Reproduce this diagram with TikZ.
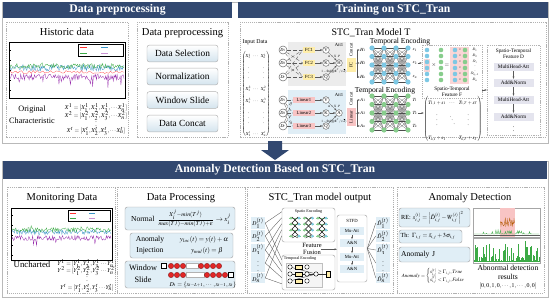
\documentclass[tikz,border=0pt]{standalone}
\usepackage{amsmath}
\usepackage{mathptmx}
\usepackage{fontspec}
\setmainfont{Liberation Serif}
\usepackage{tikz}
\usetikzlibrary{positioning, arrows.meta, calc}

\definecolor{hdrblue}{RGB}{50,72,112}
\definecolor{btnblue}{RGB}{212,228,238}
\definecolor{boxblue}{RGB}{224,238,246}
\definecolor{fcyellow}{RGB}{255,238,170}
\definecolor{linred}{RGB}{248,196,196}
\definecolor{nnblue}{RGB}{125,200,228}
\definecolor{nngreen}{RGB}{135,205,140}
\definecolor{dotred}{RGB}{226,38,38}
\definecolor{attgray}{RGB}{228,228,238}
\definecolor{sigpurple}{RGB}{150,40,170}
\definecolor{siggreen}{RGB}{60,170,70}
\definecolor{sigblue}{RGB}{60,150,200}

\newcommand{\fsz}[2]{\fontsize{#1}{#2}\selectfont}

\begin{document}
\begin{tikzpicture}[
    x=0.03cm, y=-0.03cm,
    >={Stealth[length=2pt,width=1.6pt]},
    hdr/.style={fill=hdrblue, text=white, font=\bfseries\fsz{10}{12}, inner sep=0pt},
    frame/.style={draw=gray!55, line width=0.5pt},
    panel/.style={draw=gray!60, dash pattern=on 1pt off 0.8pt, line width=0.4pt},
    ttl/.style={font=\fsz{9}{10}, inner sep=0pt},
    btn/.style={draw=gray!60, rounded corners=2pt, top color=white, bottom color=btnblue,
        font=\fsz{8}{9}, minimum width=2.13cm, minimum height=0.5cm},
    pbox/.style={draw=gray!70, rounded corners=2pt, fill=boxblue, inner sep=1pt},
    lbl/.style={font=\fsz{5}{6}, inner sep=0.5pt},
    lbltiny/.style={font=\fsz{4}{5}, inner sep=0.3pt},
    dcirc/.style={circle, draw=gray!80!black, fill=white, inner sep=0pt, minimum size=0.24cm, font=\fsz{3.8}{4}},
    vkq/.style={circle, draw=gray!80!black, fill=white, inner sep=0pt, minimum size=0.2cm, font=\fsz{4}{5}},
    fcbox/.style={fill=fcyellow, inner sep=0pt, minimum width=0.36cm, minimum height=0.2cm, font=\fsz{4}{5}},
    linbox/.style={fill=linred, inner sep=0pt, minimum width=0.66cm, minimum height=0.2cm, font=\fsz{4}{5}},
    attbox/.style={fill=attgray, inner sep=0pt, minimum width=1.2cm, minimum height=0.24cm, font=\fsz{4.5}{5}},
    dlab/.style={fill=boxblue, inner sep=0.5pt, minimum width=0.42cm, minimum height=0.32cm, font=\fsz{5}{6}},
    sfdbox/.style={fill=boxblue, inner sep=0pt, minimum width=0.72cm, minimum height=0.22cm, font=\fsz{4}{5}},
    encbox/.style={draw=gray!70, rounded corners=2pt, fill=white},
    conn/.style={draw=gray!70!black, line width=0.3pt},
    nnline/.style={draw=gray!60!black, line width=0.15pt}
]
\useasboundingbox (0,0) rectangle (550,301);
\pgfmathsetseed{12}

% Outer frames
\draw[frame] (2,2) rectangle (548,143);
\draw[frame] (2,161) rectangle (548,297);

% Headers
\node[hdr, minimum width=6.87cm, minimum height=0.48cm] (hdrpre) at (117.5,10) {Data preprocessing};
\node[hdr, minimum width=9.3cm, minimum height=0.48cm] (hdrtrain) at (393,10) {Training on STC\_Tran};
\node[hdr, minimum width=16.32cm, minimum height=0.54cm] (hdrdet) at (275,170) {Anomaly Detection Based on STC\_Tran};

% Down arrow between the two stages
\fill[hdrblue] (268,141) -- (282,141) -- (282,150) -- (289,150) -- (275,160) -- (261,150) -- (268,150) -- cycle;

% ---------------- Historic data ----------------
\draw[panel] (6,22) rectangle (128,137);
\node[ttl] (histttl) at (67,32) {Historic data};
\draw[fill=white, line width=0.4pt] (9,42) rectangle (125,98);
\begin{scope}
    \clip (9,42) rectangle (125,98);
    \draw[sigblue, line width=0.25pt] plot[domain=10:124, samples=150] (\x,{68+3*rand-8*max(0,rand-0.8)});
    \draw[siggreen, line width=0.25pt] plot[domain=10:124, samples=150] (\x,{66+2.5*rand-12*max(0,rand-0.8)});
    \draw[sigpurple, line width=0.25pt] plot[domain=10:124, samples=150] (\x,{77+3*rand+80*max(0,rand-0.85)});
    \draw[red!80, line width=0.2pt] plot[domain=10:124, samples=60] (\x,{72+1.5*rand});
\end{scope}
\foreach \t in {50,60,...,90} \draw[line width=0.2pt] (9,\t) -- (10.5,\t);
\draw[fill=white, line width=0.2pt] (78,44) rectangle (123,56);
\draw[red!80, line width=0.3pt] (80,47) -- (87,47);
\draw[sigblue, line width=0.3pt] (101,47) -- (108,47);
\draw[siggreen, line width=0.3pt] (80,53) -- (87,53);
\draw[sigpurple!50, line width=0.3pt] (101,53) -- (108,53);
\node[font=\fsz{7}{8}] (orig) at (32,110) {Original};
\node[font=\fsz{7}{8}] (charac) at (32,121) {Characteristic};
\node[font=\fsz{5}{6}] (xrow1) at (96,108) {$X^1=[X_1^1,X_2^1,X_3^1,\cdots X_n^1]$};
\node[font=\fsz{5}{6}] (xrow2) at (96,116) {$X^2=[X_1^2,X_2^2,X_3^2,\cdots X_n^2]$};
\node[font=\fsz{5}{6}] (xdots) at (96,123) {$\vdots$};
\node[font=\fsz{5}{6}] (xrowt) at (96,131) {$X^t=[X_1^t,X_2^t,X_3^t,\cdots X_n^t]$};

% ---------------- Data preprocessing steps ----------------
\draw[panel] (137,22) rectangle (228,137);
\node[ttl] (prettl) at (182.5,33) {Data preprocessing};
\node[btn] (bsel) at (182.5,53.5) {Data Selection};
\node[btn] (bnorm) at (182.5,76.5) {Normalization};
\node[btn] (bwin) at (182.5,100) {Window Slide};
\node[btn] (bcon) at (182.5,123.5) {Data Concat};

% ---------------- STC_Tran model T ----------------
\draw[panel] (240,22) rectangle (546,137);
\node[ttl, font=\fsz{8.5}{9}] (modelttl) at (371,33) {STC\_Tran Model T};
\node[lbl] (inttl) at (255,42) {Input Data};
\node[font=\fsz{3.8}{4}, inner sep=0pt] (inmat) at (256,94)
    {\arraycolsep=1pt\renewcommand{\arraystretch}{2.6}$\begin{pmatrix}
    X_1^1 & \cdots & X_n^1\\ \vdots & & \vdots\\ X_1^2 & \cdots & X_n^2\\
    X_1^3 & \cdots & X_n^3\\ \vdots & & \vdots\\ X_1^t & \cdots & X_n^t\end{pmatrix}$};
\fill[gray!15] (288,42) rectangle (346,86);
\fill[boxblue] (288,90) rectangle (346,134);

% spatial attention branch
\node[dcirc] (d1) at (283,50) {$D_1$};
\node[dcirc] (d2) at (283,63) {$D_2$};
\node[dcirc] (d3) at (283,77) {$D_t$};
\node[fcbox] (fc1) at (309,50) {FC1};
\node[fcbox] (fc2) at (309,63) {FC2};
\node[fcbox] (fc3) at (309,77) {FC3};
\foreach \a in {1,2,3}
    \foreach \b in {1,2,3}
        \draw[conn, densely dashed] (d\a) -- (fc\b.west);
\node[vkq] (v1) at (326,50) {V};
\node[vkq] (k1) at (326,63) {K};
\node[vkq] (q1) at (326,77) {Q};
\node[vkq] (h1) at (339,63) {H};
\draw[->, conn] (fc1) -- (v1);
\draw[->, conn] (fc2) -- (k1);
\draw[->, conn] (fc3) -- (q1);
\draw[->, conn] (v1) -- (h1);
\draw[->, conn] (k1) -- (h1);
\draw[->, conn] (q1) -- (h1);
\node[lbltiny] (att1) at (339,45) {Att1};
\node[font=\fsz{2.8}{3}] (alpha1) at (334,56.5) {$\alpha=X\cdot P$};
\node[font=\fsz{2.8}{3}] (std1) at (334,71) {$1-\mathrm{Std}(QK^T/\sqrt{d})$};
\node[lbltiny, rotate=90] (cat1) at (351,50) {Concat};
\node[fcbox, rotate=90, minimum width=0.42cm, minimum height=0.27cm] (mlp1) at (351,65) {FC};
\node[lbltiny] (hh1) at (363,50) {$H_1$};
\node[lbltiny] (hh2) at (363,63) {$H_2$};
\node[lbltiny] (hhn) at (363,77) {$H_n$};
\coordinate (br1) at (357,63);
\draw[conn] (mlp1) -- (br1);
\draw[conn] (hh1.west -| br1) -- (hhn.west -| br1);
\foreach \h in {hh1,hh2,hhn} \draw[->, conn] (\h.west -| br1) -- (\h.west);

% temporal attention branch
\node[dcirc] (e1) at (283,100) {$D_1$};
\node[dcirc] (e2) at (283,113) {$D_2$};
\node[dcirc] (e3) at (283,126) {$D_t$};
\node[linbox] (lin1) at (304,100) {Linear1};
\node[linbox] (lin2) at (304,113) {Linear2};
\node[linbox] (lin3) at (304,126) {Linear3};
\foreach \a in {1,2,3}
    \foreach \b in {1,2,3}
        \draw[conn, densely dashed] (e\a) -- (lin\b.west);
\node[vkq] (v2) at (326,100) {V};
\node[vkq] (k2) at (326,113) {K};
\node[vkq] (q2) at (326,126) {Q};
\node[vkq] (a2) at (339,113) {A};
\draw[->, conn] (lin1) -- (v2);
\draw[->, conn] (lin2) -- (k2);
\draw[->, conn] (lin3) -- (q2);
\draw[->, conn] (v2) -- (a2);
\draw[->, conn] (k2) -- (a2);
\draw[->, conn] (q2) -- (a2);
\node[lbltiny] (att2) at (339,95) {Att1};
\node[font=\fsz{2.8}{3}] (alpha2) at (334,106.5) {$\alpha=X\cdot P$};
\node[font=\fsz{2.8}{3}] (std2) at (334,121) {$1-\mathrm{Std}(QK^T/\sqrt{d})$};
\node[lbltiny, rotate=90] (cat2) at (351,99) {Concat};
\node[linbox, rotate=90, minimum width=0.54cm, minimum height=0.27cm] (mlp2) at (351,117) {Linear};
\node[lbltiny] (aa1) at (363,100) {$A_1$};
\node[lbltiny] (aa2) at (363,113) {$A_2$};
\node[lbltiny] (aan) at (363,126) {$A_n$};
\coordinate (br2) at (357,113);
\draw[conn] (mlp2) -- (br2);
\draw[conn] (aa1.west -| br2) -- (aan.west -| br2);
\foreach \h in {aa1,aa2,aan} \draw[->, conn] (\h.west -| br2) -- (\h.west);

% Temporal encoding networks
\node[lbl, font=\fsz{6.5}{7}] (tenc1) at (400,42) {Temporal Encoding};
\node[lbl, font=\fsz{6.5}{7}] (tenc2) at (385,91) {Temporal Encoding};
\foreach \c [count=\ci] in {372,384,396,408}
    \foreach \r [count=\ri] in {48,56.5,65,73.5,82} {
        \coordinate (na\ci-\ri) at (\c,\r);
        \coordinate (nb\ci-\ri) at (\c,\r+48);
    }
\foreach \ci/\cj in {1/2,2/3,3/4}
    \foreach \ri in {1,...,5}
        \foreach \rj in {1,...,5} {
            \draw[nnline] (na\ci-\ri) -- (na\cj-\rj);
            \draw[nnline] (nb\ci-\ri) -- (nb\cj-\rj);
        }
\foreach \ci in {1,...,4}
    \foreach \ri in {1,...,5} {
        \fill[nnblue] (na\ci-\ri) circle (2.6);
        \fill[nngreen] (nb\ci-\ri) circle (2.6);
    }
\node[lbltiny] (s1) at (415,50) {$s_1$};
\node[lbltiny] (s2) at (415,63) {$s_2$};
\node[lbltiny] (sn) at (415,77) {$s_n$};
\node[lbltiny] (t1) at (415,100) {$T_1$};
\node[lbltiny] (t2) at (415,113) {$T_2$};
\node[lbltiny] (tn) at (415,126) {$T_n$};

% Spatio-temporal feature F
\node[panel, minimum width=1.8cm, minimum height=1.59cm] (fbox) at (452,71.5) {};
\fill[linred!70] (424,59) rectangle (430,72);
\fill[linred!70] (450,47) rectangle (469,84);
\foreach \r [count=\ri] in {50,56,62,68,74,80} {
    \fill[nnblue] (427,\r) circle (2.3);
    \fill[nngreen] (441,\r) circle (2.3);
    \fill[nnblue] (455,\r) circle (2.3);
    \fill[nngreen] (465,\r) circle (2.3);
    \node[font=\fsz{3}{3.5}, inner sep=0pt] (xm\ri) at (460,\r) {$\times$};
}
\node[font=\fsz{5}{6}] (mul) at (434,65) {$\times$};
\node[font=\fsz{5}{6}] (eqs) at (447,65) {$=$};
\node[font=\fsz{3.2}{3.5}, inner sep=0pt] (st1) at (475,50) {$St_1$};
\node[font=\fsz{3.2}{3.5}, inner sep=0pt] (st2) at (475,56) {$St_2$};
\node[font=\fsz{3.2}{3.5}, inner sep=0pt] (sti) at (475,62) {$St_i$};
\node[font=\fsz{3.2}{3.5}, inner sep=0pt] (stdots) at (475,68) {$\vdots$};
\node[font=\fsz{3.2}{3.5}, inner sep=0pt] (stm) at (475,74) {$St_{n-1}$};
\node[font=\fsz{3.2}{3.5}, inner sep=0pt] (stn) at (475,80) {$St_n$};
\node[font=\fsz{4.5}{5}] (fttl1) at (452,89) {Spatio-Temporal};
\node[font=\fsz{4.5}{5}] (fttl2) at (452,94.5) {Feature F};
\node[font=\fsz{4.3}{5}, inner sep=0pt] (stmat) at (453,119)
    {\arraycolsep=1.5pt\renewcommand{\arraystretch}{2.4}$\begin{pmatrix}
    T_{1,1}+s_1 & \cdots & T_{1,T}+s_T\\ \vdots & \ddots & \vdots\\
    T_{n,1}+s_1 & \cdots & T_{n,T}+s_T\end{pmatrix}$};
\draw[->, conn] (s2.east) -- (s2.east -| fbox.west);
\draw[->, conn] (t2.east) -- (t2.east -| stmat.west);

% Spatio-temporal feature D
\node[panel, minimum width=1.59cm, minimum height=2.7cm] (dbox) at (513.5,90) {};
\node[font=\fsz{4.5}{5}] (dttl1) at (513.5,51.5) {Spatio-Temporal};
\node[font=\fsz{4.5}{5}] (dttl2) at (513.5,57) {Feature D};
\node[attbox] (mh1) at (513.5,67) {MultiHead-Att};
\node[attbox] (an1) at (513.5,83) {Add\&Norm};
\node[attbox] (mh2) at (513.5,100) {MultiHead-Att};
\node[attbox] (an2) at (513.5,117) {Add\&Norm};
\node[font=\fsz{5}{6}] (ddots) at (513.5,128) {$\vdots$};
\draw[->, conn] (mh1) -- (an1);
\draw[->, conn] (an1) -- (mh2);
\draw[->, conn] (mh2) -- (an2);
\draw[->, conn] (fbox.east |- dbox.west) -- (dbox.west);

% ---------------- Monitoring data ----------------
\draw[panel] (7,187) rectangle (115,293);
\node[ttl] (monttl) at (62,198) {Monitoring Data};
\draw[fill=white, line width=0.4pt] (11,208) rectangle (112,260);
\begin{scope}
    \clip (11,208) rectangle (112,260);
    \draw[sigblue, line width=0.25pt] plot[domain=12:111, samples=130] (\x,{232+2.5*rand-8*max(0,rand-0.8)});
    \draw[siggreen, line width=0.25pt] plot[domain=12:111, samples=130] (\x,{230+2.5*rand-12*max(0,rand-0.8)});
    \draw[sigpurple, line width=0.25pt] plot[domain=12:111, samples=130] (\x,{238+2.5*rand+60*max(0,rand-0.85)});
\end{scope}
\foreach \t in {215,225,...,255} \draw[line width=0.2pt] (11,\t) -- (12.5,\t);
\draw[fill=white, line width=0.2pt] (68,210) rectangle (110,221);
\draw[red!80, line width=0.3pt] (70,213) -- (76,213);
\draw[sigblue, line width=0.3pt] (89,213) -- (95,213);
\draw[siggreen, line width=0.3pt] (70,218) -- (76,218);
\draw[sigpurple!50, line width=0.3pt] (89,218) -- (95,218);
\node[font=\fsz{7.5}{9}] (unch) at (32,264) {Uncharted};
\node[font=\fsz{5}{6}] (yrow1) at (87,264) {$Y^1=[Y_1^1,Y_2^1,Y_3^1\cdots Y_n^1]$};
\node[font=\fsz{5}{6}] (yrow2) at (87,271) {$Y^2=[Y_1^2,Y_2^2,Y_3^2\cdots Y_n^2]$};
\node[font=\fsz{5}{6}] (ydots) at (87,278) {$\vdots$};
\node[font=\fsz{5}{6}] (yrowt) at (87,288) {$Y^t=[Y_1^t,Y_2^t,Y_3^t\cdots Y_n^t]$};

% ---------------- Data processing ----------------
\draw[panel] (117,187) rectangle (245,293);
\node[ttl] (procttl) at (181,198) {Data Processing};
\node[pbox, minimum width=3.3cm, minimum height=0.69cm] (pnorm) at (180,218.5) {};
\node[font=\fsz{6.5}{8}, anchor=west] (normtxt) at (127,218.5) {Normal};
\node[font=\fsz{6}{7}] (normeq) at (194,218.5) {$\frac{X_i^j-min(T^j)}{max(T^j)-min(T^j)+\epsilon}\rightarrow x_i^j$};
\node[pbox, minimum width=3.09cm, minimum height=0.75cm] (pinj) at (181.5,245.5) {};
\node[font=\fsz{6.5}{8}] (injtxt1) at (150,240) {Anomaly};
\node[font=\fsz{6.5}{8}] (injtxt2) at (150,251) {Injection};
\node[font=\fsz{5.8}{7}] (injeq1) at (204,240) {$y_{loc}(t)=y(t)+\alpha$};
\node[font=\fsz{5.8}{7}] (injeq2) at (207,251) {$y_{mul}(t)=\beta$};
\node[pbox, minimum width=3.3cm, minimum height=0.81cm] (pwin) at (180,274.5) {};
\node[font=\fsz{7}{8}] (wintxt1) at (143,268) {Window};
\node[font=\fsz{7}{8}] (wintxt2) at (143,280) {Slide};
\draw[fill=white, line width=0.3pt] (161,263.5) rectangle (166.5,268.5);
\draw[fill=white, draw=gray!60, line width=0.3pt] (186,263.5) rectangle (198,268.5);
\draw[fill=white, draw=gray!60, line width=0.3pt] (186,272.5) rectangle (204,277.5);
\draw[fill=white, line width=0.3pt] (228,272.5) rectangle (233.5,277.5);
\foreach \x in {171,177,183,201,207,213,219}
    \filldraw[fill=dotred, draw=red!40!black, line width=0.2pt] (\x,266) circle (2.7);
\foreach \x in {171,177,183,207,213,219,225}
    \filldraw[fill=dotred, draw=red!40!black, line width=0.2pt] (\x,275) circle (2.7);
\node[font=\fsz{5.2}{6}] (wineq) at (203,284.5) {$D_t=\{x_{t-L+1},\cdots,x_{t-1},x_t\}$};

% ---------------- STC_Tran model output ----------------
\draw[panel] (247,187) rectangle (393,293);
\node[ttl] (outttl) at (320,198) {STC\_Tran model output};
\node[dlab] (in1) at (258,223) {$D_1^{(t)}$};
\node[dlab] (in2) at (258,236) {$D_2^{(t)}$};
\node[dlab] (in3) at (258,250) {$D_3^{(t)}$};
\node[dlab] (in4) at (258,263) {$\vdots$};
\node[dlab] (in5) at (258,278) {$D_n^{(t)}$};
\node[encbox, minimum width=1.59cm, minimum height=1.02cm] (spenc) at (308.5,225) {};
\node[font=\fsz{3.5}{4}] (spttl) at (308.5,212) {Spatio Encoding};
\foreach \c in {295,308.5,322} {
    \foreach \r in {218,224,230,236} {
        \draw[nngreen, line width=0.3pt, densely dotted] (\c-6,\r) -- (\c+6,\r);
        \fill[nngreen] (\c-4,\r) circle (1.5);
        \fill[nnblue] (\c+4,\r) circle (1.5);
    }
    \draw[gray!20!black, line width=0.35pt] (\c-3,217) -- (\c+3,223) -- (\c-3,229) -- (\c+3,235) -- (\c-3,238);
    \draw[gray!20!black, line width=0.35pt] (\c+3,217) -- (\c-3,223) -- (\c+3,229) -- (\c-3,235) -- (\c+3,238);
}
\node[encbox, minimum width=1.59cm, minimum height=1.05cm] (tenc) at (308.5,272.5) {};
\node[font=\fsz{3.5}{4}] (tttl) at (300,259) {Temporal Encoding};
\draw[gray!50, fill=gray!8, line width=0.3pt] (286,263) rectangle (322,287);
\foreach \r in {267,274,281} {
    \draw[gray!40!black, line width=0.3pt] (290,\r) -- (316,274);
    \draw[fill=white, line width=0.3pt] (290,\r) circle (2.2);
    \draw[fill=fcyellow, line width=0.3pt] (295,\r-1.8) rectangle (302,\r+1.8);
    \draw[fill=white, line width=0.3pt] (307,\r) circle (2.2);
}
\draw[gray!40!black, line width=0.3pt] (316,274) -- (326,274);
\draw[fill=white, line width=0.3pt] (316,274) circle (2.2);
\draw[fill=fcyellow, line width=0.3pt] (326,271) rectangle (330,277);
\node[font=\fsz{5.5}{6}, inner sep=0.3pt] (fus1) at (312,245.5) {Feature};
\node[font=\fsz{5.5}{6}, inner sep=0.3pt] (fus2) at (312,252) {Fusion};
\node[encbox, minimum width=0.9cm, minimum height=2.01cm] (stfd) at (352,248.5) {};
\node[font=\fsz{4}{5}] (stfdttl) at (352,221) {STFD};
\node[sfdbox] (mu1) at (352,231) {Mu-Att};
\node[sfdbox] (ann1) at (352,243) {A\&N};
\node[sfdbox] (mu2) at (352,257) {Mu-Att};
\node[sfdbox] (ann2) at (352,269) {A\&N};
\draw[->, conn] (mu1) -- (ann1);
\draw[->, conn] (ann1) -- (mu2);
\draw[->, conn] (mu2) -- (ann2);
\draw[->, conn] (fus2.north east) -- (fus2.north east -| stfd.west);
\foreach \i in {1,...,5} {
    \draw[conn] (in\i.east) -- ($(spenc.north west)+(0,{6*\i-2})$);
    \draw[conn] (in\i.east) -- ($(tenc.north west)+(0,{6*\i-1})$);
}
\node[dlab] (out1) at (383,223) {$\hat{D}_1^{(t)}$};
\node[dlab] (out2) at (383,236) {$\hat{D}_2^{(t)}$};
\node[dlab] (out3) at (383,250) {$\hat{D}_3^{(t)}$};
\node[dlab] (out4) at (383,263) {$\vdots$};
\node[dlab] (out5) at (383,278) {$\hat{D}_n^{(t)}$};
\foreach \i in {1,...,5} \draw[conn] (stfd.east) -- (out\i.west);

% ---------------- Anomaly detection ----------------
\draw[panel] (397,187) rectangle (544,293);
\node[ttl] (detttl) at (470,198) {Anomaly Detection};
\node[pbox, minimum width=2.13cm, minimum height=0.57cm, text width=2.0cm, align=left, font=\fsz{5.3}{6}] (rebox) at (434.5,217.5)
    {RE: $s_{i,j}^{(t)}=\left|\hat{D}_{i,j}^{(t)}-W_{i,j}^{(t)}\right|^2$};
\node[pbox, minimum width=1.89cm, minimum height=0.39cm, text width=1.8cm, align=left, font=\fsz{5.3}{6}] (thbox) at (430.5,236.5)
    {Th: $\Gamma_{i,j}=\bar{s}_{i,j}+3\sigma_{i,j}$};
\node[pbox, minimum width=2.13cm, minimum height=0.45cm, text width=2.0cm, align=left, font=\fsz{6.5}{7.5}] (ajbox) at (434.5,254.5)
    {Anomaly J};
\node[font=\fsz{4.3}{5}] (anoeq) at (436,276)
    {$Anomaly=\begin{cases} s_{i,j}^{(t)}\ge\Gamma_{i,j},True\\ s_{i,j}^{(t)}<\Gamma_{i,j},False\end{cases}$};
\draw[fill=white, draw=gray!70, line width=0.3pt] (473,208) rectangle (540,237);
\fill[linred] (500,208.3) rectangle (515,236.7);
\draw[siggreen, line width=0.3pt] plot[domain=474:539, samples=90] (\x,{234-7*max(0,rand-0.4)});
\draw[orange!70!black, line width=0.3pt] plot[domain=500.5:514.5, samples=30] (\x,{222+4*rand});
\draw[gray!70!black, line width=0.4pt] (473.5,235) -- (539.5,235);
\draw[fill=white, draw=gray!70, line width=0.3pt] (473,238) rectangle (540,263);
\foreach \i in {474,474.8,...,539} {
    \pgfmathsetmacro{\hgt}{261-21*rnd^3}
    \draw[siggreen, line width=0.35pt] (\i,261.5) -- (\i,\hgt);
}
\node[font=\fsz{6.5}{7}] (abn1) at (508,268) {Abnormal detection};
\node[font=\fsz{6.5}{7}] (abn2) at (508,277) {results};
\node[font=\fsz{5}{6}] (abn3) at (508,286) {$[0,0,1,0,\cdots,1,\cdots,0,0]$};
\end{tikzpicture}
\end{document}
